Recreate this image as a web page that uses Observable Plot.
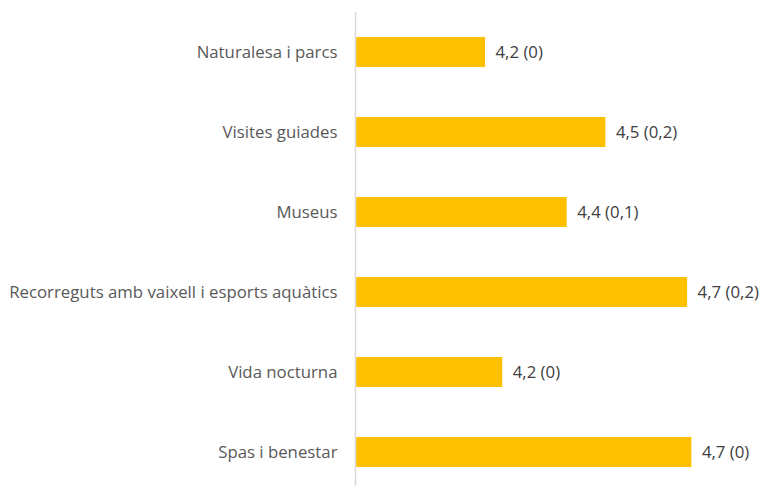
<!DOCTYPE html>
<html>
<head>
<meta charset="utf-8">
<script src="https://cdn.jsdelivr.net/npm/d3@7"></script>
<script src="https://cdn.jsdelivr.net/npm/@observablehq/plot@0.6"></script>
<style>
  html, body { margin: 0; padding: 0; background: #fff; }
</style>
</head>
<body>
<div id="chart"></div>
<script>
const categories = [
  "Naturalesa i parcs",
  "Visites guiades",
  "Museus",
  "Recorreguts amb vaixell i esports aquàtics",
  "Vida nocturna",
  "Spas i benestar"
];
const values = [4.20, 4.48, 4.39, 4.67, 4.24, 4.68];
const valueLabels = ["4,2 (0)", "4,5 (0,2)", "4,4 (0,1)", "4,7 (0,2)", "4,2 (0)", "4,7 (0)"];

const data = categories.map((c, i) => ({category: c, value: values[i], label: valueLabels[i]}));
const FONT = "'Open Sans', sans-serif";

const chart = Plot.plot({
  width: 760,
  height: 486,
  marginLeft: 356,
  marginRight: 17,
  marginTop: 12,
  marginBottom: 0,
  style: {fontFamily: FONT, background: "#fff"},
  x: {domain: [3.9, 4.8], axis: null},
  y: {domain: categories, range: [12, 492], paddingInner: 0.625, paddingOuter: 0.3125, label: null},
  marks: [
    Plot.barX(data, {x1: 3.9, x2: "value", y: "category", fill: "#FFC000"}),
    Plot.ruleX([3.9], {stroke: "#d9d9d9", strokeWidth: 1.5, dx: -1}),
    Plot.axisY({tickSize: 0, tickPadding: 19, fontSize: 16.8, fill: "#595959", label: null}),
    Plot.text(data, {x: "value", y: "category", text: "label", textAnchor: "start", dx: 10, fontSize: 16.8, fill: "#404040"})
  ]
});
document.getElementById("chart").appendChild(chart);
</script>
</body>
</html>
